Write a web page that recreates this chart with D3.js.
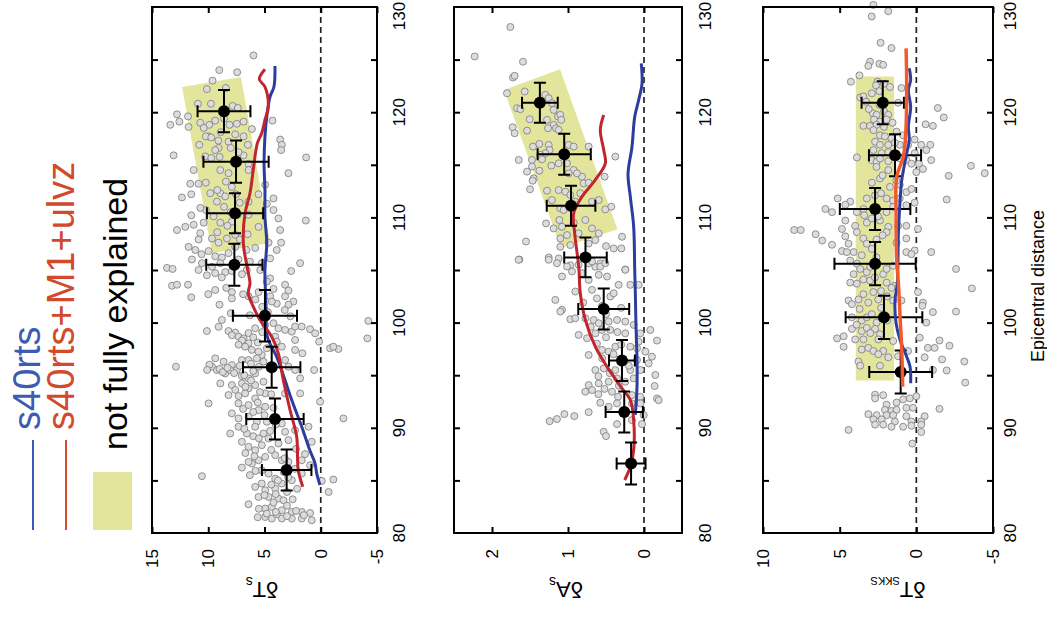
<!DOCTYPE html>
<html>
<head>
<meta charset="utf-8">
<script src="https://cdn.jsdelivr.net/npm/d3@7"></script>
<style>
  body { margin: 0; background: #fff; }
  svg text { font-family: "Liberation Sans", Arial, sans-serif; }
</style>
</head>
<body>
<svg id="chart" width="1047" height="619"></svg>
<script>
"use strict";

//// data (distance in degrees, residuals)
const distLabels = [80, 90, 100, 110, 120, 130];
const distTicks = [85, 90, 95, 100, 105, 110, 115, 120, 125];

const dTsTicks = [15, 10, 5, 0, -5];
const dAsTicks = [2, 1, 0];
const dTkTicks = [10, 5, 0, -5];

// observations: [distance, residual]
const dTsObs = [
  [125.4,5.98],[124.0,9.02],[123.8,7.43],[123.0,9.62],[122.2,10.12],[122.3,8.43],[120.8,10.92],[120.8,9.76],[120.6,7.84],[120.4,7.37],
  [119.8,12.78],[119.6,11.8],[118.8,13.37],[119.1,12.57],[118.6,11.75],[119.0,10.71],[118.8,9.91],[119.2,9.38],[118.8,8.11],[118.9,7.46],
  [119.1,6.86],[119.2,4.29],[118.4,6.12],[117.7,9.97],[117.7,10.21],[117.6,9.73],[117.2,8.2],[117.7,6.86],[116.9,6.48],[117.4,3.61],
  [116.9,3.46],[116.4,3.52],[116.9,10.8],[116.6,9.08],[116.4,9.38],[115.9,13.08],[115.8,10.27],[115.65,9.73],[115.75,8.99],[115.9,6.86],
  [115.1,6.42],[115.7,1.3],[114.5,11.3],[114.5,8.93],[114.2,8.2],[114.5,6.42],[114.2,2.87],[113.2,11.6],[113.2,10.86],[113.3,10.21],
  [113.4,8.43],[113.1,4.94],[111.9,12.34],[112.2,11.51],[112.3,9.82],[111.5,9.23],[112.3,8.93],[112.0,8.49],[112.2,7.54],[111.5,6.42],
  [112.2,5.53],[111.8,4.2],[111.3,4.79],[110.2,11.51],[110.7,10.21],[110.1,9.53],[109.5,8.93],[109.6,7.9],[110.25,7.37],[110.25,6.42],
  [110.7,4.2],[109.9,3.76],[109.7,1.33],[108.8,12.78],[109.1,12.04],[109.3,11.3],[108.5,10.71],[109.5,10.41],[108.0,9.67],[107.6,9.08],
  [108.0,8.34],[108.35,7.6],[109.1,5.53],[108.8,3.61],[107.9,10.86],[107.2,11.75],[106.9,11.15],[106.8,9.97],[106.3,9.38],[106.2,8.79],
  [107.2,7.6],[107.1,5.83],[107.6,4.64],[106.9,3.91],[107.6,3.52],[106.0,11.45],[105.65,10.56],[105.3,9.67],[105.65,8.93],[106.0,7.31],
  [105.65,5.24],[106.1,4.5],[105.65,1.83],[104.9,2.63],[105.2,13.67],[105.1,13.17],[105.0,10.86],[104.5,10.12],[104.7,9.38],[104.8,8.49],
  [104.2,4.5],[104.9,7.9],[105.0,6.57],[105.0,5.38],[103.5,13.22],[103.6,12.78],[103.6,11.8],[103.1,9.38],[102.4,11.51],[102.9,7.9],
  [102.3,7.9],[102.5,6.42],[102.9,5.53],[102.5,4.5],[101.8,3.91],[103.6,3.17],[103.05,2.87],[102.5,3.17],[102.0,2.43],[101.7,2.87],
  [102.0,4.35],[100.25,8.79],[99.6,9.08],[99.2,10.12],[99.2,8.2],[99.05,7.6],[98.67,7.31],[98.5,6.86],[99.0,6.42],[99.46,5.83],
  [99.78,4.94],[99.94,4.2],[99.46,3.76],[99.3,3.17],[99.14,2.57],[99.62,2.28],[99.62,1.69],[99.37,0.95],[98.98,0.5],[98.19,0.15],
  [98.35,2.28],[98.67,4.05],[98.03,6.42],[97.71,6.72],[97.4,6.12],[96.92,5.24],[97.24,5.53],[97.56,4.79],[98.19,3.91],[97.71,3.46],
  [97.4,2.28],[97.08,1.63],[97.56,-0.83],[97.49,-1.57],[97.71,-1.12],[100.16,-4.23],[98.5,-4.14],[96.6,9.38],[96.29,8.64],[95.97,7.9],
  [95.81,9.67],[95.49,9.23],[95.17,8.49],[95.49,8.05],[95.49,7.46],[94.92,7.01],[94.7,6.42],[95.17,5.83],[96.29,5.09],[96.6,5.68],
  [96.44,6.42],[96.44,7.01],[96.44,3.17],[95.81,2.87],[95.49,2.28],[94.7,1.83],[95.49,0.59],[95.81,12.87],[94.22,8.93],[94.06,7.9],
  [94.22,7.01],[93.75,6.42],[94.06,5.83],[94.38,5.09],[93.11,8.2],[93.02,7.31],[93.27,6.72],[92.79,5.83],[93.27,4.94],[93.27,3.17],
  [93.27,1.83],[92.48,0.06],[90.89,-2.01],[92.32,9.97],[92.32,7.31],[92.16,6.42],[91.68,5.53],[92.0,4.94],[91.37,7.9],[90.89,7.31],
  [91.05,6.42],[90.57,5.68],[90.57,4.79],[90.1,7.31],[89.46,6.57],[90.1,5.83],[89.46,5.09],[89.46,8.05],[90.41,3.46],[89.62,3.17],
  [89.78,2.28],[90.1,1.09],[88.67,7.01],[88.19,6.42],[87.87,5.83],[88.35,5.24],[88.98,4.64],[88.51,3.76],[88.83,2.87],[88.67,0.8],
  [86.6,6.12],[86.22,7.01],[86.76,6.42],[86.92,5.53],[87.24,4.94],[87.4,4.05],[86.92,3.46],[86.76,2.87],[86.92,1.69],[86.44,0.95],
  [85.4,10.56],[85.97,5.24],[85.65,4.64],[85.17,4.05],[84.7,5.24],[84.38,5.83],[84.06,4.94],[84.22,4.05],[84.7,3.46],[85.02,2.57],
  [85.65,1.69],[83.43,5.53],[83.43,4.64],[83.27,3.76],[83.11,3.31],[83.9,-0.7],[84.95,-0.09],[85.08,-1.12],[82.73,6.42],[82.32,4.94],
  [82.48,4.35],[82.16,3.46],[82.0,2.57],[82.0,1.69],[81.9,0.95],[81.52,4.94],[81.37,4.35],[81.37,3.46],[81.37,2.57],[81.37,1.69],
  [81.21,0.8],[81.84,4.79],[81.78,3.91],
  [95.6,9.0],[95.3,8.7],[95.7,8.3],[95.2,7.7],[95.9,7.2],[95.0,6.8],[95.4,6.0],[95.8,5.5],[96.1,6.2],[96.0,9.9],
  [95.5,10.1],[98.8,7.9],[98.3,7.0],[98.6,6.0],[98.1,5.6],[97.9,7.3],[99.1,5.2],[93.6,7.6],[93.9,6.7],[93.4,5.4],
  [94.5,6.2],[93.2,4.4],[91.8,6.9],[91.5,6.0],[91.2,5.0],[92.4,5.6],[91.9,4.2],[89.9,6.8],[89.2,6.0],[89.7,4.5],
  [89.0,5.5],[90.3,4.0],[87.6,6.7],[87.3,5.9],[87.9,4.4],[87.1,3.2],[88.0,2.2],[87.5,1.4],[85.5,6.3],[85.8,3.3],
  [85.3,2.9],[86.1,2.3],[85.0,3.8],[84.6,4.4],[85.9,5.8],[83.7,4.0],[83.9,3.0],[84.2,2.1],[83.6,5.0],[83.2,2.5],
  [82.9,4.2],[82.3,5.5],[82.6,3.0],[82.1,2.2],[81.7,1.5],[81.6,3.0],[81.5,5.6],[82.0,4.0],[118.1,8.9],[117.9,7.6],
  [118.5,10.4],[119.4,8.6],[117.3,9.1],[116.6,8.0],[116.2,7.3],[112.6,9.2],[112.9,7.9],[111.0,8.6],[110.5,8.0],[111.4,7.2],
  [110.9,10.7],[109.2,8.3],[108.6,9.2],[108.4,6.5],[107.9,7.2],[106.6,8.2],[106.5,10.6],[105.8,6.3],[105.3,7.7],[104.6,7.0],
  [104.3,8.8],[106.9,6.6],[103.3,8.4],[102.7,6.9],[102.2,5.8],[101.5,5.2],[101.0,4.7],[100.7,6.3],[101.2,3.2],[100.6,2.7],
  [103.9,4.8],[103.2,4.2],[102.7,10.0],[101.7,9.0],[100.9,8.0]
];
// binned means: [distance, mean, distance half-range, residual half-range]
const dTsBins = [
  [120.1, 8.6, 2.0, 2.35], [115.3, 7.53, 2.0, 2.9], [110.4, 7.62, 1.9, 2.5], [105.5, 7.68, 2.0, 2.5],
  [100.65, 4.96, 2.45, 2.85], [95.75, 4.36, 1.95, 2.55], [90.84, 4.07, 1.95, 2.55], [85.99, 3.03, 1.95, 2.2]
];
const dTsS40 = [
  [124.39,4.07],[122.42,4.16],[121.47,4.51],[119.57,4.8],[117.67,4.96],[115.14,5.04],[112.6,4.96],[110.07,4.96],[107.54,4.8],[105.0,4.96],
  [101.83,4.87],[98.66,4.75],[96.76,3.92],[94.54,3.18],[92.64,2.58],[90.1,1.69],[87.89,0.98],[86.63,0.51],[85.67,0.36],[84.56,0.07]
];
const dTsUlvz = [
  [124.08,4.96],[123.13,5.46],[122.42,4.96],[120.52,4.66],[119.26,4.96],[118.0,5.25],[117.04,5.64],[114.5,6.0],[112.29,6.29],[110.39,6.73],
  [107.54,6.88],[105.0,6.49],[103.74,6.29],[102.79,6.44],[101.51,6.0],[100.25,5.4],[98.66,4.36],[97.08,3.77],[94.54,3.33],[91.69,2.73],
  [89.15,2.14],[85.99,2.0],[84.4,1.6]
];
const dTsBox = [[122.4, 12.33], [123.35, 7.09], [107.57, 4.51], [106.6, 9.67]];

const dAsObs = [
  [128.1,1.759],[125.3,2.228],[124.8,1.592],[123.3,1.724],[123.46,1.702],[121.8,1.803],[121.97,1.57],[121.65,1.298],[121.33,1.254],[120.38,1.671],
  [120.29,1.627],[120.86,1.211],[120.22,1.189],[119.33,1.504],[119.27,1.276],[119.59,1.132],[119.75,1.101],[119.27,1.088],[118.79,1.189],[118.48,1.263],
  [118.48,1.158],[118.32,1.123],[118.57,1.728],[118.25,1.539],[118.0,1.702],[116.73,1.461],[116.98,1.377],[116.89,1.254],[116.41,1.241],[116.1,1.298],
  [115.94,1.364],[115.52,1.342],[116.89,0.991],[116.73,0.925],[116.73,0.728],[115.78,0.377],[115.46,1.649],[115.46,1.474],[114.83,1.474],[114.92,1.219],
  [115.14,1.123],[115.14,1.013],[114.51,0.925],[113.87,0.816],[114.35,1.539],[114.44,1.377],[113.71,1.452],[113.49,1.465],[114.19,0.991],[114.19,0.882],
  [113.24,0.794],[113.3,0.728],[113.87,0.518],[112.67,1.5],[112.54,1.276],[112.6,1.123],[112.44,1.035],[112.29,0.838],[112.13,0.969],[111.65,1.211],
  [110.86,1.101],[110.7,1.057],[111.49,0.904],[111.49,0.684],[111.65,0.596],[110.76,0.509],[111.02,0.43],[109.43,1.289],[109.75,1.114],[108.95,1.189],
  [109.11,1.079],[109.49,0.925],[109.75,0.772],[108.95,0.684],[108.48,0.86],[108.32,1.013],[108.0,1.101],[108.48,0.596],[107.84,0.64],[107.52,0.728],
  [108.16,0.289],[107.71,1.553],[107.21,1.101],[107.37,0.969],[107.27,0.5],[107.05,0.399],[107.05,0.298],[106.0,1.64],[106.19,1.254],[106.1,1.123],
  [105.46,0.969],[105.62,0.728],[105.3,0.64],[105.62,0.575],[105.05,0.246],
  [105.97,1.649],[105.97,1.254],[105.65,1.145],[105.33,1.013],[105.49,0.86],[105.81,0.684],[105.33,0.575],[105.65,0.509],[105.02,0.246],[104.38,1.079],
  [104.86,0.947],[104.7,0.816],[104.06,0.728],[104.54,0.596],[104.38,0.487],[103.59,0.333],[103.59,0.18],[103.59,0.07],[102.16,1.167],[102.95,0.904],
  [103.11,0.684],[102.48,0.443],[102.79,0.399],[101.21,1.079],[101.05,1.101],[100.32,0.969],[100.41,0.904],[100.41,0.772],[100.25,0.662],[99.94,0.596],
  [100.1,0.465],[100.25,0.355],[100.1,0.246],[99.78,0.136],[98.83,0.86],[98.51,0.75],[98.98,0.64],[99.3,0.553],[99.3,0.443],[98.98,0.246],
  [98.98,0.048],[99.3,-0.083],[98.29,-0.171],[98.19,0.07],[96.92,0.728],[97.4,0.553],[97.24,0.465],[97.71,0.377],[97.71,0.18],[97.56,0.092],
  [97.24,-0.018],[96.76,-0.105],[96.13,-0.061],[95.02,-0.149],[96.44,0.092],[95.49,0.64],[95.65,0.531],[95.49,0.377],[95.49,0.18],[95.49,0.048],
  [94.06,0.728],[94.22,0.596],[94.38,0.465],[94.7,0.355],[94.38,0.246],[94.7,0.136],[93.43,0.772],[93.59,0.684],[93.43,0.421],[92.95,0.342],
  [93.11,0.158],[92.95,0.048],[93.97,-0.14],[92.79,-0.171],[92.63,-0.193],[92.38,0.575],[92.0,0.465],[92.32,0.355],[92.32,0.158],[92.32,0.048],
  [90.63,1.241],[90.83,1.145],[91.3,1.048],[91.11,0.917],[91.49,0.728],[90.35,0.355],[90.73,0.158],[90.35,0.026],[89.62,0.531],[89.21,0.5],
  [91.21,0.004],
  [99.6,0.7],[99.1,0.35],[98.6,0.5],[98.0,0.62],[97.9,0.3],[97.0,0.4],[96.6,0.55],[96.2,0.3],[95.9,0.2],[95.2,0.45],
  [94.9,0.6],[94.0,0.33],[93.7,0.52],[93.2,0.6],[101.6,0.55],[101.9,0.8],[102.3,0.62],[100.8,0.5],[101.4,0.3]
];
const dAsBins = [
  [120.9, 1.37, 1.9, 0.235], [116.0, 1.05, 1.95, 0.35], [111.1, 0.96, 1.9, 0.32], [106.2, 0.77, 1.9, 0.28],
  [101.3, 0.53, 1.95, 0.335], [96.4, 0.29, 1.95, 0.17], [91.5, 0.26, 1.95, 0.245], [86.6, 0.17, 2.0, 0.19]
];
const dAsS40 = [
  [124.65,0.036],[122.75,0.026],[121.16,0.07],[119.57,0.122],[116.72,0.158],[114.13,0.21],[111.97,0.18],[109.12,0.136],[105.0,0.122],[102.79,0.114],
  [99.61,0.105],[96.44,0.092],[93.91,0.092],[91.22,0.114]
];
const dAsUlvz = [
  [119.73,0.53],[118.31,0.575],[116.41,0.53],[115.14,0.509],[113.56,0.641],[111.97,0.816],[110.39,0.925],[108.49,0.912],[105.31,0.859],[102.79,0.838],
  [100.25,0.772],[97.71,0.641],[95.81,0.487],[93.75,0.29],[92.64,0.18],[90.74,0.136],[87.89,0.136],[86.3,0.18],[85.04,0.254]
];
const dAsBox = [[122.1, 1.842], [124.08, 1.105], [108.87, 0.349], [107.09, 1.092]];

const dTkObs = [
  [130.2,2.8],[129.1,2.91],[129.6,1.83],[126.6,2.33],[126.1,1.62],[124.8,3.02],[124.4,3.13],[124.6,2.41],[124.5,2.16],[123.5,3.71],
  [122.9,4.27],[122.9,2.54],[122.7,2.11],[122.4,1.72],[122.55,2.63],[122.3,0.97],[122.0,2.41],[121.4,3.66],[121.5,3.45],[121.0,3.28],
  [120.9,1.19],[119.9,2.84],[119.75,2.59],[120.1,2.11],[119.75,1.83],[119.3,2.76],[119.1,2.37],[119.3,1.94],[118.7,3.45],[118.7,3.02],
  [118.8,2.59],[118.6,2.11],[119.0,1.55],[120.4,-1.4],[119.5,-1.79],[118.85,-0.6],[118.7,-1.08],[117.8,2.37],[117.7,2.05],[117.5,1.62],
  [118.15,1.29],[117.8,0.86],[117.2,2.69],[116.9,2.37],[116.9,1.83],[116.9,1.08],[116.9,0.54],[116.4,2.8],[116.1,2.26],[116.2,1.83],
  [117.4,0.11],[116.9,-0.32],[116.9,-0.91],[116.4,-0.65],[116.1,0.11],[115.45,2.91],[115.3,2.59],[115.6,2.37],[115.35,1.83],[115.6,1.08],
  [115.45,0.65],[115.1,0.32],[115.1,-0.17],[114.6,-0.43],[115.45,-0.97],[115.7,3.88],[114.5,1.83],[114.3,0.0],[114.9,-3.56],[114.2,-4.46],
  [113.95,-2.11],[113.7,2.37],[112.9,1.72],[113.1,1.08],[112.4,0.65],[112.7,0.32],[111.5,4.31],[111.8,3.23],[112.1,2.69],[111.8,1.94],
  [111.6,1.51],[111.8,1.08],[111.15,0.65],[110.8,5.93],[110.5,5.5],[111.8,5.13],[111.2,4.63],[110.5,3.88],[110.8,3.45],[110.5,1.94],
  [111.0,1.51],[111.4,0.11],[111.7,-1.98],[109.7,4.63],[109.2,3.99],[109.5,3.23],[109.7,2.37],[109.1,1.83],[109.2,1.19],[109.2,0.65],
  [108.8,7.97],[108.8,7.54],[108.4,6.57],[107.8,6.14],[107.4,5.5],[108.9,4.85],[108.2,4.63],[107.5,4.42],[108.6,3.88],[108.0,3.45],
  [107.5,3.23],[108.6,1.94],[107.6,1.29],[108.0,0.65],[108.9,-0.11],[106.7,-0.97],[106.7,4.09],[106.4,3.56],[106.7,0.65],[106.85,0.11],
  [106.8,4.85],[106.7,4.53],[106.5,0.32],[105.9,4.31],[105.6,3.88],[105.1,3.66],[104.6,4.09],[104.8,3.23],[104.6,2.16],[105.1,1.94],
  [105.4,1.51],[105.1,-2.59],[103.8,4.31],[103.7,3.88],[104.1,3.45],[104.0,3.02],[103.8,1.94],[103.5,1.4],[103.3,1.62],[103.25,-3.62],
  [102.7,3.45],[102.9,2.8],[102.2,3.77],[102.1,4.42],[101.75,4.2],[101.9,3.13],[102.2,2.48],[102.1,1.51],[102.1,0.97],[101.9,-0.43],
  [102.9,-0.11],[101.6,-0.39],[101.0,-1.08],[101.05,-2.59],[100.0,-0.65],[100.5,4.2],[100.2,3.56],[100.5,3.23],[100.0,2.59],[99.4,4.2],
  [99.2,3.56],[99.5,3.23],[99.4,2.69],[98.9,2.37],[98.5,5.17],[98.7,4.74],[98.4,3.99],[98.4,3.45],[98.4,2.48],[98.25,1.51],
  [98.57,-0.22],[98.3,-1.51],[97.8,-2.16],[97.6,-0.75],[97.6,-1.19],[97.7,4.74],[97.45,3.56],[97.6,3.13],[97.3,2.8],[97.3,2.16],
  [97.0,2.48],[96.7,1.83],[96.8,1.19],[97.3,0.54],[96.7,-0.54],[96.5,-1.68],[96.3,-3.13],[96.3,3.77],[95.9,3.66],[95.9,2.37],
  [95.5,-1.08],[95.45,-1.98],[94.3,-3.19],[93.15,2.69],[93.1,2.16],[92.8,2.69],[92.2,1.94],[92.4,1.29],[92.7,0.86],[92.8,0.43],
  [93.0,0.0],[91.1,-0.54],[91.8,-1.51],[91.7,2.05],[91.6,1.62],[91.7,1.29],[91.9,0.65],[91.9,0.22],[91.2,1.94],[91.2,1.51],
  [91.1,0.65],[91.3,3.13],[91.2,2.59],[90.8,2.8],[90.8,2.26],[90.6,1.4],[90.6,0.32],[90.6,-0.32],[90.3,2.69],[90.3,2.16],
  [90.1,1.62],[90.1,0.86],[90.2,0.32],[90.3,-0.32],[89.8,4.42],[89.6,-0.32],[88.5,0.26],
  [101.3,3.7],[100.8,2.9],[101.4,2.3],[100.2,1.9],[99.8,3.9],[99.0,3.0],[103.0,2.3],[102.5,1.9],[104.3,2.7],[105.3,3.0],
  [106.2,2.6],[107.0,2.9],[107.9,2.6],[108.3,2.2],[109.9,2.9],[110.2,3.4],[110.1,2.5],[112.3,2.3],[113.3,2.9],[114.0,2.2],
  [113.5,1.3],[114.8,2.6],[117.1,1.4],[118.3,2.8],[120.7,2.4],[121.8,2.9],[120.3,3.1]
];
const dTkBins = [
  [120.9, 2.19, 2.05, 1.38], [115.9, 1.39, 2.0, 1.7], [110.8, 2.69, 2.0, 2.3],
  [105.6, 2.69, 2.05, 2.65], [100.5, 2.11, 2.05, 2.5], [95.3, 1.02, 2.05, 2.05]
];
const dTkS40 = [
  [124.17,0.46],[123.06,0.37],[122.11,0.52],[120.52,0.37],[118.62,0.52],[117.36,0.46],[116.09,0.63],[114.82,0.8],[113.56,0.95],[111.65,1.06],
  [108.49,1.17],[103.74,1.24],[102.15,1.39],[99.93,1.32],[98.35,1.06],[96.76,0.63],[95.81,0.41],[94.23,0.37]
];
const dTkUlvz = [
  [126.07,0.67],[122.75,0.63],[118.0,0.69],[115.78,0.85],[113.87,1.28],[110.39,1.32],[105.95,1.28],[103.74,1.17],[100.56,1.06],[97.4,0.95],
  [93.91,0.89]
];
const dTkBox = [[123.4, 3.95], [123.4, 1.45], [94.5, 1.45], [94.5, 3.95]];

//// layout
const svg = d3.select("#chart");
const top0 = 7, bottom0 = 533;
const fontTick = "17px";

const panels = [
  { obs: dTsObs, bins: dTsBins, s40: dTsS40, ulvz: dTsUlvz, box: dTsBox, ticks: dTsTicks,
    range: [15, -5], x0: 152, x1: 377, gap: 28, title: ["δT", "s"], titleX: 262, subSize: "14px",
    ulvzColor: "#c1252d", ulvzWidth: 3, ulvzOnTop: false },
  { obs: dAsObs, bins: dAsBins, s40: dAsS40, ulvz: dAsUlvz, box: dAsBox, ticks: dAsTicks,
    range: [2.5, -0.5], x0: 454, x1: 682, gap: 29, title: ["δA", "s"], titleX: 566, subSize: "14px",
    ulvzColor: "#c1252d", ulvzWidth: 3, ulvzOnTop: false },
  { obs: dTkObs, bins: dTkBins, s40: dTkS40, ulvz: dTkUlvz, box: dTkBox, ticks: dTkTicks,
    range: [10, -5], x0: 763, x1: 993, gap: 23, title: ["δT", "SKKS"], titleX: 898, subSize: "11px",
    ulvzColor: "#f15a2b", ulvzWidth: 3.5, ulvzOnTop: true }
];

const y = d3.scaleLinear().domain([80, 130]).range([bottom0, top0]);

panels.forEach(function(p) {
  const x = d3.scaleLinear().domain(p.range).range([p.x0, p.x1]);
  const g = svg.append("g");

  // yellow "not fully explained" area
  g.append("polygon")
    .attr("points", p.box.map(d => [x(d[1]), y(d[0])].join(",")).join(" "))
    .attr("fill", "#e4e59c");

  // zero line
  g.append("line")
    .attr("x1", x(0)).attr("x2", x(0))
    .attr("y1", top0).attr("y2", bottom0)
    .attr("stroke", "#222").attr("stroke-width", 1.7)
    .attr("stroke-dasharray", "6,4");

  // observations
  g.append("g").selectAll("circle")
    .data(p.obs)
    .enter().append("circle")
      .attr("cx", d => x(d[1]))
      .attr("cy", d => y(d[0]))
      .attr("r", 3.5)
      .attr("fill", "#dcdcdc")
      .attr("stroke", "#7a7a7a")
      .attr("stroke-width", 0.8);

  const line = d3.line()
    .x(d => x(d[1]))
    .y(d => y(d[0]))
    .curve(d3.curveCatmullRom.alpha(0.5));

  function drawModels() {
    g.append("path").attr("d", line(p.s40))
      .attr("fill", "none").attr("stroke", "#2c3d9e").attr("stroke-width", 3);
    g.append("path").attr("d", line(p.ulvz))
      .attr("fill", "none").attr("stroke", p.ulvzColor).attr("stroke-width", p.ulvzWidth);
  }
  if (!p.ulvzOnTop) drawModels();

  // binned means with error bars
  const cap = 6;
  const bins = g.append("g").selectAll("g").data(p.bins).enter().append("g");
  bins.append("path")
    .attr("d", function(d) {
      const cx = x(d[1]), cy = y(d[0]);
      const xa = x(d[1] + d[3]), xb = x(d[1] - d[3]);
      const ya = y(d[0] + d[2]), yb = y(d[0] - d[2]);
      return "M" + xa + "," + cy + "H" + xb +
        "M" + xa + "," + (cy - cap) + "V" + (cy + cap) +
        "M" + xb + "," + (cy - cap) + "V" + (cy + cap) +
        "M" + cx + "," + ya + "V" + yb +
        "M" + (cx - cap) + "," + ya + "H" + (cx + cap) +
        "M" + (cx - cap) + "," + yb + "H" + (cx + cap);
    })
    .attr("fill", "none").attr("stroke", "#000").attr("stroke-width", 2);
  bins.append("circle")
    .attr("cx", d => x(d[1])).attr("cy", d => y(d[0]))
    .attr("r", 6).attr("fill", "#000");

  if (p.ulvzOnTop) drawModels();

  // inward ticks on all four sides
  function ticks(axis, tx, ty) {
    g.append("g").attr("transform", "translate(" + tx + "," + ty + ")")
      .call(axis)
      .call(a => a.select(".domain").remove())
      .call(a => a.selectAll("text").remove())
      .call(a => a.selectAll(".tick line").attr("stroke", "#000").attr("stroke-width", 2));
  }
  ticks(d3.axisRight(y).tickValues(distTicks).tickSize(6), p.x0, 0);
  ticks(d3.axisLeft(y).tickValues(distTicks).tickSize(6), p.x1, 0);
  ticks(d3.axisBottom(x).tickValues(p.ticks).tickSize(6), 0, top0);
  ticks(d3.axisTop(x).tickValues(p.ticks).tickSize(6), 0, bottom0);

  // frame
  g.append("rect")
    .attr("x", p.x0).attr("y", top0)
    .attr("width", p.x1 - p.x0).attr("height", bottom0 - top0)
    .attr("fill", "none").attr("stroke", "#000").attr("stroke-width", 2);

  // distance labels (rotated); the top one is kept inside the page
  g.append("g").selectAll("text")
    .data(distLabels)
    .enter().append("text")
      .attr("transform", d => "translate(" + (p.x1 + p.gap) + "," + Math.max(y(d), 16) + ") rotate(-90)")
      .attr("text-anchor", "middle")
      .style("font-size", fontTick)
      .text(d => d);

  // residual labels (rotated)
  g.append("g").selectAll("text")
    .data(p.ticks)
    .enter().append("text")
      .attr("transform", d => "translate(" + x(d) + "," + (bottom0 + 16) + ") rotate(-90)")
      .attr("text-anchor", "end")
      .attr("dy", "0.35em")
      .style("font-size", fontTick)
      .text(d => d);

  // axis title, upside down
  const t = g.append("text")
    .attr("transform", "translate(" + p.titleX + "," + 582 + ") rotate(180)")
    .attr("text-anchor", "middle")
    .style("font-size", "22px");
  t.append("tspan").text(p.title[0]);
  t.append("tspan").attr("dy", 5).style("font-size", p.subSize).text(p.title[1]);
});

svg.append("text")
  .attr("transform", "translate(1044,286) rotate(-90)")
  .attr("text-anchor", "middle")
  .style("font-size", "18px")
  .text("Epicentral distance");

//// legend
const legend = svg.append("g");
legend.append("line").attr("x1", 33).attr("x2", 33).attr("y1", 440).attr("y2", 530)
  .attr("stroke", "#3b5cb2").attr("stroke-width", 2);
legend.append("text")
  .attr("transform", "translate(40,430) rotate(-90)")
  .attr("fill", "#3b5cb2").style("font-size", "38px")
  .text("s40rts");
legend.append("line").attr("x1", 66).attr("x2", 66).attr("y1", 440).attr("y2", 530)
  .attr("stroke", "#d24a2b").attr("stroke-width", 2);
legend.append("text")
  .attr("transform", "translate(74,430) rotate(-90)")
  .attr("fill", "#d24a2b").style("font-size", "38px")
  .text("s40rts+M1+ulvz");
legend.append("rect").attr("x", 93).attr("y", 472).attr("width", 39).attr("height", 58)
  .attr("fill", "#e4e59c");
legend.append("text")
  .attr("transform", "translate(127,450) rotate(-90)")
  .attr("fill", "#000").style("font-size", "34px")
  .text("not fully explained");
</script>
</body>
</html>
